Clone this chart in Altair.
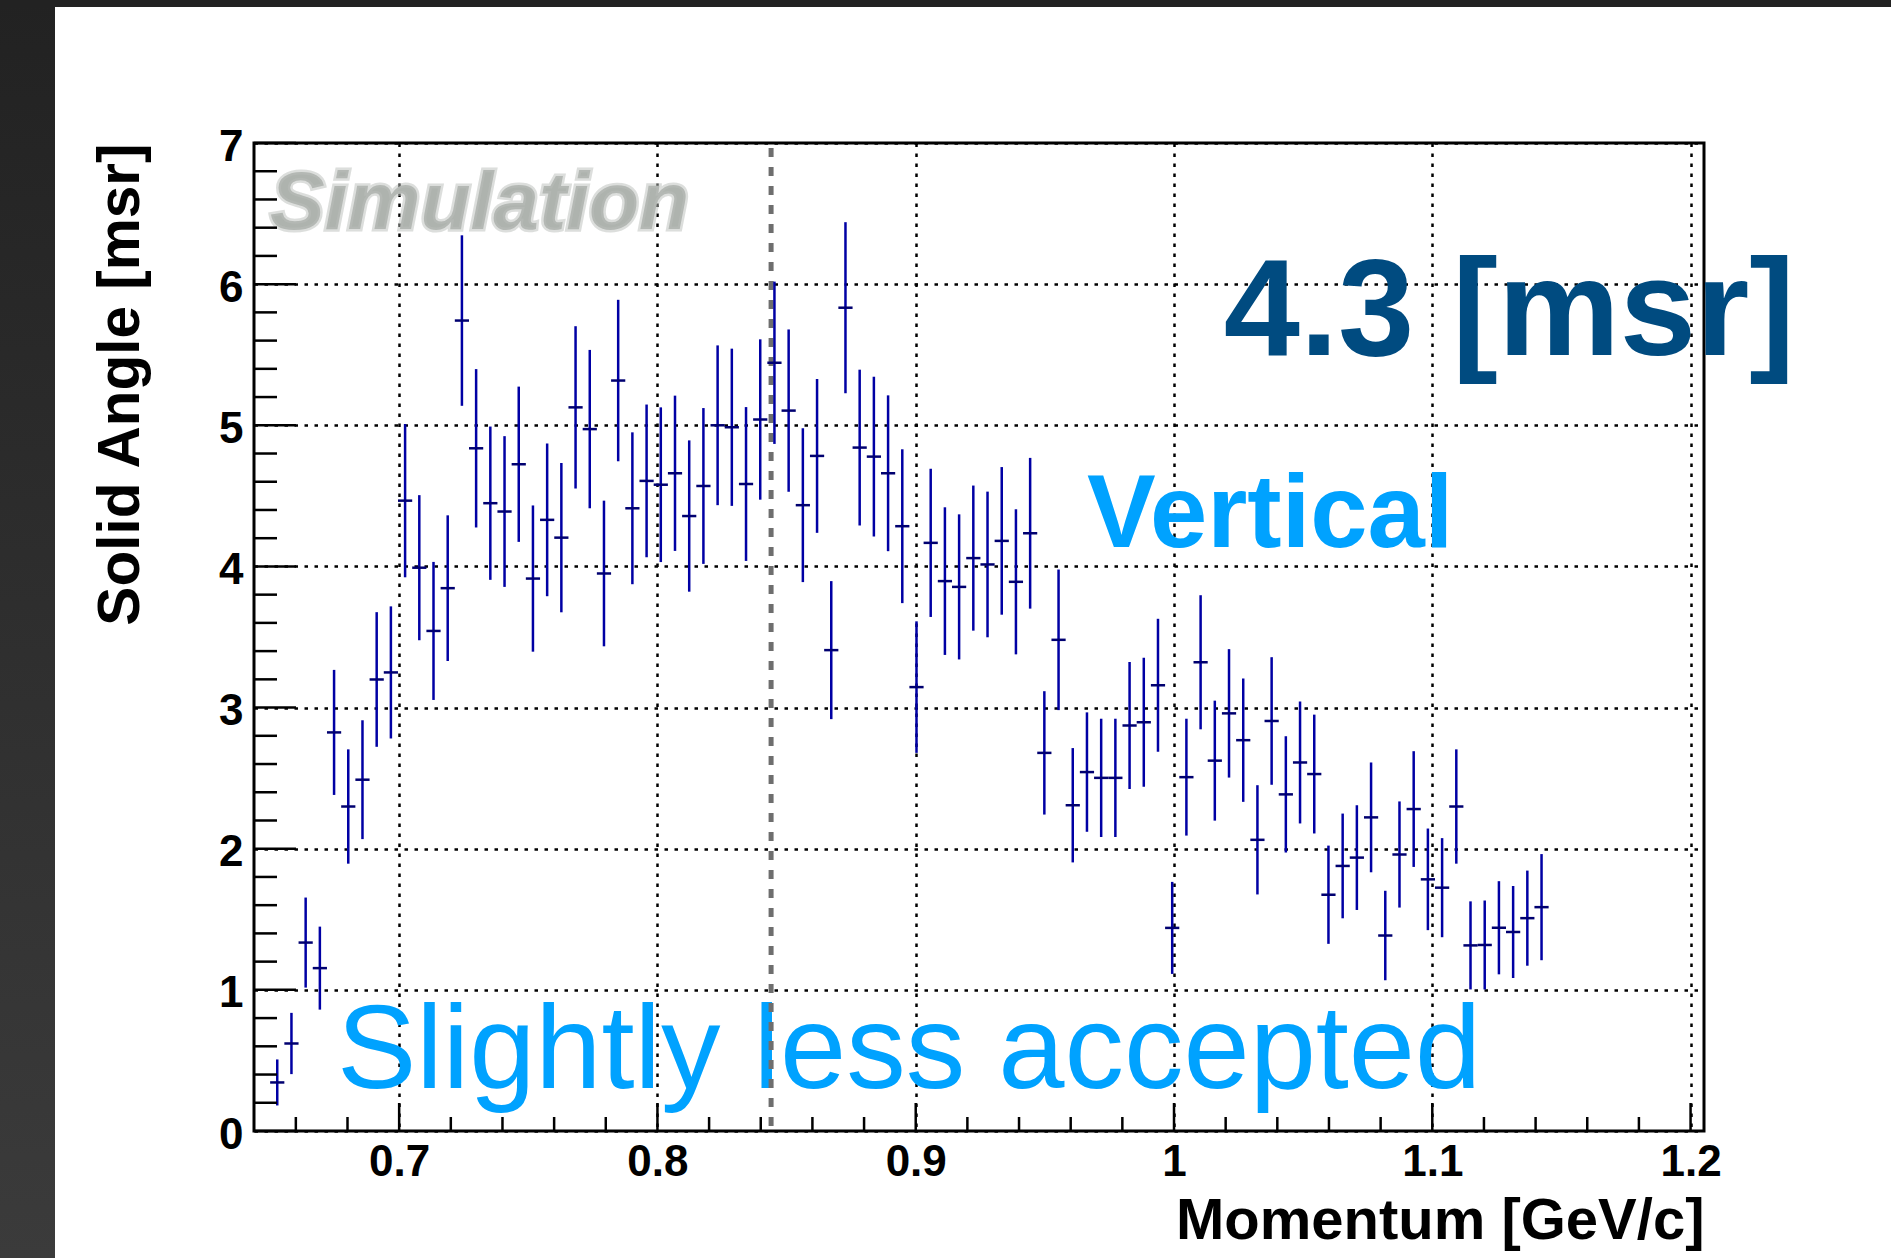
import altair as alt
import pandas as pd

# ---------------- data ----------------
momentum = [
    0.6528, 0.6583, 0.6638, 0.6693, 0.6748, 0.6803, 0.6858, 0.6913, 0.6968, 0.7023,
    0.7078, 0.7133, 0.7188, 0.7243, 0.7298, 0.7353, 0.7408, 0.7463, 0.7518, 0.7573,
    0.7628, 0.7683, 0.7738, 0.7793, 0.7848, 0.7903, 0.7958, 0.8013, 0.8068, 0.8123,
    0.8178, 0.8233, 0.8288, 0.8343, 0.8398, 0.8453, 0.8508, 0.8563, 0.8618, 0.8673,
    0.8728, 0.8783, 0.8838, 0.8893, 0.8948, 0.9003, 0.9058, 0.9113, 0.9168, 0.9223,
    0.9278, 0.9333, 0.9388, 0.9443, 0.9498, 0.9553, 0.9608, 0.9663, 0.9718, 0.9773,
    0.9828, 0.9883, 0.9938, 0.9993, 1.0048, 1.0103, 1.0158, 1.0213, 1.0268, 1.0323,
    1.0378, 1.0433, 1.0488, 1.0543, 1.0598, 1.0653, 1.0708, 1.0763, 1.0818, 1.0873,
    1.0928, 1.0983, 1.1038, 1.1093, 1.1148, 1.1203, 1.1258, 1.1313, 1.1368, 1.1423,
]
solid_angle = [
    0.344, 0.62, 1.335, 1.154, 2.824, 2.299, 2.489, 3.199, 3.249, 4.466,
    3.991, 3.543, 3.846, 5.742, 4.837, 4.448, 4.389, 4.724, 3.914, 4.33,
    4.204, 5.127, 4.973, 3.95, 5.317, 4.412, 4.606, 4.579, 4.66, 4.357,
    4.57, 5.0, 4.986, 4.584, 5.041, 5.443, 5.104, 4.434, 4.783, 3.407,
    5.833, 4.842, 4.778, 4.66, 4.285, 3.145, 4.167, 3.896, 3.855, 4.059,
    4.014, 4.181, 3.891, 4.235, 2.679, 3.48, 2.308, 2.543, 2.502, 2.502,
    2.873, 2.896, 3.158, 1.439, 2.507, 3.321, 2.624, 2.959, 2.769, 2.063,
    2.905, 2.385, 2.611, 2.529, 1.674, 1.878, 1.937, 2.222, 1.385, 1.959,
    2.281, 1.783, 1.724, 2.299, 1.315, 1.318, 1.44, 1.41, 1.508, 1.586,
]
errors = [
    0.163, 0.217, 0.319, 0.294, 0.443, 0.405, 0.421, 0.477, 0.468, 0.543,
    0.514, 0.489, 0.516, 0.604, 0.561, 0.543, 0.534, 0.55, 0.518, 0.541,
    0.529, 0.575, 0.561, 0.516, 0.572, 0.538, 0.541, 0.548, 0.55, 0.536,
    0.552, 0.566, 0.557, 0.545, 0.568, 0.575, 0.575, 0.545, 0.545, 0.489,
    0.606, 0.552, 0.566, 0.552, 0.545, 0.466, 0.525, 0.523, 0.514, 0.514,
    0.516, 0.523, 0.514, 0.534, 0.437, 0.498, 0.405, 0.423, 0.419, 0.419,
    0.45, 0.457, 0.471, 0.326, 0.414, 0.475, 0.425, 0.455, 0.437, 0.387,
    0.452, 0.412, 0.432, 0.421, 0.348, 0.371, 0.371, 0.389, 0.317, 0.376,
    0.41, 0.36, 0.351, 0.405, 0.312, 0.315, 0.33, 0.326, 0.337, 0.376,
]
bin_width = 0.0055
cut_momentum = [0.844]

x_major = [0.7, 0.8, 0.9, 1.0, 1.1, 1.2]
x_minor = [0.66, 0.68, 0.72, 0.74, 0.76, 0.78, 0.82, 0.84, 0.86, 0.88,
           0.92, 0.94, 0.96, 0.98, 1.02, 1.04, 1.06, 1.08, 1.12, 1.14, 1.16, 1.18]
y_major = [0, 1, 2, 3, 4, 5, 6, 7]
y_minor = [0.2, 0.4, 0.6, 0.8, 1.2, 1.4, 1.6, 1.8, 2.2, 2.4, 2.6, 2.8,
           3.2, 3.4, 3.6, 3.8, 4.2, 4.4, 4.6, 4.8, 5.2, 5.4, 5.6, 5.8,
           6.2, 6.4, 6.6, 6.8]

# ---------------- layout / style ----------------
W, H = 1450, 988
PAD_L, PAD_T = 254, 143
FONT = "Liberation Sans"
BLUE = "#0000a4"
SKY = "#00a2ff"
NAVY = "#004b80"

xs = alt.Scale(domain=[0.6438, 1.2052], nice=False, zero=False)
ys = alt.Scale(domain=[0, 7], nice=False, zero=False)

xaxis = alt.Axis(
    values=x_major, format="~g", title="Momentum [GeV/c]",
    grid=True, gridColor="black", gridDash=[3.5, 6.5], gridWidth=2.5, gridOpacity=1,
    ticks=False, tickSize=0, domain=False,
    labelFont=FONT, labelFontSize=44, labelFontWeight="bold", labelColor="black",
    labelBaseline="alphabetic", labelPadding=44, labelFlush=False,
    titleFont=FONT, titleFontSize=58, titleFontWeight="bold", titleColor="black",
    titleAlign="right", titleBaseline="alphabetic", titleAngle=0, titleX=W, titleY=107,
)
yaxis = alt.Axis(
    values=y_major, format="d", title="Solid Angle [msr]",
    grid=True, gridColor="black", gridDash=[3.5, 6.5], gridWidth=2.5, gridOpacity=1,
    ticks=False, tickSize=0, domain=False,
    labelFont=FONT, labelFontSize=44, labelFontWeight="bold", labelColor="black",
    labelAlign="right", labelBaseline="middle", labelPadding=11, labelOffset=4,
    labelFlush=False,
    titleFont=FONT, titleFontSize=58.5, titleFontWeight="bold", titleColor="black",
    titleAngle=270, titleAlign="right", titleBaseline="alphabetic", titleX=-116, titleY=0,
)


def X(field):
    return alt.X(field, scale=xs, axis=xaxis)


def Y(field):
    return alt.Y(field, scale=ys, axis=yaxis)


one = pd.DataFrame({"k": [0]})

# dark slide frame (left strip and top bar)
left_strip = alt.Chart(one).mark_rect(
    color=alt.Gradient(
        gradient="linear",
        stops=[alt.GradientStop(color="#222222", offset=0),
               alt.GradientStop(color="#3b3b3b", offset=1)],
        x1=0, x2=0, y1=0, y2=1,
    )
).encode(x=alt.value(-PAD_L), x2=alt.value(-PAD_L + 55),
         y=alt.value(-PAD_T), y2=alt.value(1258 - PAD_T))
top_bar = alt.Chart(one).mark_rect(color="#222222").encode(
    x=alt.value(-PAD_L), x2=alt.value(1891 - PAD_L),
    y=alt.value(-PAD_T), y2=alt.value(-PAD_T + 7))


def label(text, x, y, size, color, weight="normal", style="normal", **extra):
    d = pd.DataFrame({"x": [x], "y": [y], "t": [text]})
    return alt.Chart(d).mark_text(
        align="left", baseline="alphabetic", font=FONT, fontSize=size,
        fontWeight=weight, fontStyle=style, color=color, **extra,
    ).encode(x=X("x:Q"), y=Y("y:Q"), text="t:N")


simulation = label("Simulation", 0.6500, 6.39, 82, "#aeb3ae", "bold", "italic",
                   stroke="#b9beb9", strokeWidth=5, strokeOpacity=0.5)

cut_line = alt.Chart(pd.DataFrame({"c": cut_momentum})).mark_rule(
    color="#6e6e6e", strokeWidth=5, strokeDash=[9, 10], strokeDashOffset=14
).encode(x=X("c:Q"), y=alt.value(0), y2=alt.value(H))

df = pd.DataFrame({"p": momentum, "v": solid_angle, "e": errors})
base = alt.Chart(df).transform_calculate(
    lo="datum.v - datum.e", hi="datum.v + datum.e",
    xl=f"datum.p - {bin_width / 2}", xr=f"datum.p + {bin_width / 2}",
)
vbars = base.mark_rule(color=BLUE, strokeWidth=2.5).encode(
    x=X("p:Q"), y=Y("lo:Q"), y2="hi:Q",
)
hbars = base.mark_rule(color="#000070", strokeWidth=2.5).encode(
    x=X("xl:Q"), x2="xr:Q", y=Y("v:Q"),
)

ymaj = alt.Chart(pd.DataFrame({"t": y_major})).mark_rule(color="black", strokeWidth=2.5).encode(
    y=Y("t:Q"), x=alt.value(0), x2=alt.value(42))
ymin = alt.Chart(pd.DataFrame({"t": y_minor})).mark_rule(color="black", strokeWidth=2.5).encode(
    y=Y("t:Q"), x=alt.value(0), x2=alt.value(23))
xmaj = alt.Chart(pd.DataFrame({"t": x_major})).mark_rule(color="black", strokeWidth=2.5).encode(
    x=X("t:Q"), y=alt.value(H), y2=alt.value(H - 28))
xmin = alt.Chart(pd.DataFrame({"t": x_minor})).mark_rule(color="black", strokeWidth=2.5).encode(
    x=X("t:Q"), y=alt.value(H), y2=alt.value(H - 14))

big = label("4.3 [msr]", 1.0193, 5.50, 137, NAVY, "bold")
vert = label("Vertical", 0.9663, 4.137, 103, SKY, "bold")
less = label("Slightly less accepted", 0.6759, 0.307, 119, SKY, "normal")

chart = alt.layer(
    left_strip, top_bar, simulation, less, vert, big, cut_line,
    vbars, hbars, ymaj, ymin, xmaj, xmin,
).properties(
    width=W, height=H, autosize="none",
    padding={"left": PAD_L, "top": PAD_T, "right": 1891 - PAD_L - W, "bottom": 1258 - PAD_T - H},
    background="white",
).configure_view(stroke="black", strokeWidth=3)

chart.save("out.html", embed_options={"renderer": "svg", "actions": False})
